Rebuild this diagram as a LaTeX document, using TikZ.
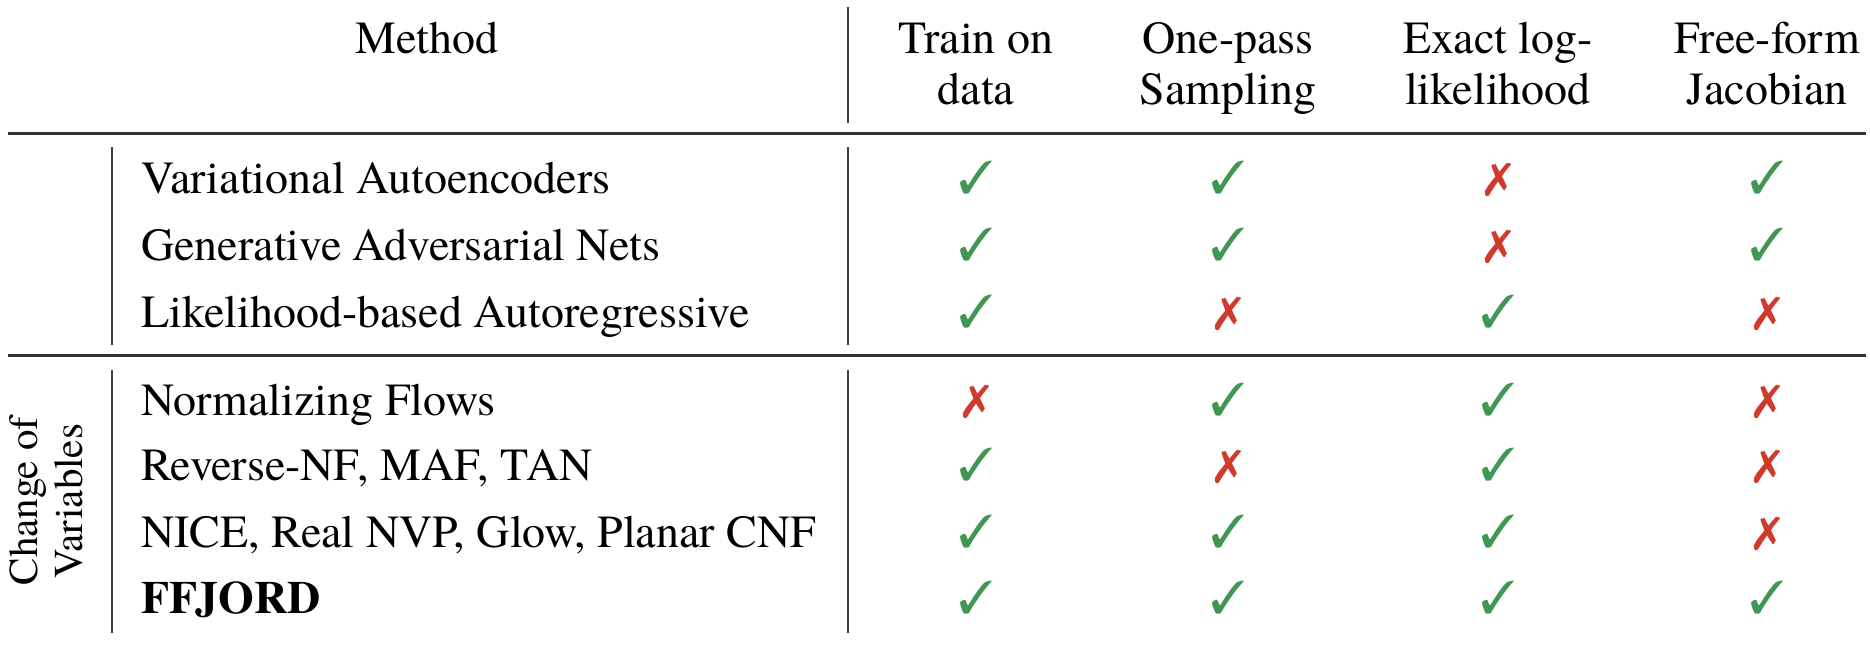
\documentclass[tikz,border=0pt]{standalone}
\usepackage{fontspec}
\setmainfont{texgyretermes}[Extension=.otf, UprightFont=*-regular, BoldFont=*-bold, ItalicFont=*-italic, BoldItalicFont=*-bolditalic]
\usepackage{pifont}
\usepackage{tikz}
\usetikzlibrary{positioning}
\definecolor{okgreen}{RGB}{64,150,82}
\definecolor{nored}{RGB}{208,58,45}
\newcommand{\cmark}{\textcolor{okgreen}{\ding{51}}}
\newcommand{\xmark}{\textcolor{nored}{\ding{55}}}

\begin{document}
\begin{tikzpicture}[x=1pt,y=-1pt]
        \tikzstyle{every node}+=[inner sep=0pt, anchor=base, font=\rmfamily\fontsize{46}{51}\selectfont]
        \tikzstyle{rule}=[line width=3pt, black!80]
        \tikzstyle{vline}=[line width=2.4pt, black!75]
        \tikzstyle{side}=[rotate=90, font=\rmfamily\fontsize{41}{45}\selectfont]
        \useasboundingbox (0,0) rectangle (1870,646);
        % header
        \node (method) at (427,53) {Method};
        \node (train) at (976,53) {Train on};
        \node (train2) at ([yshift=-51pt]train.base) {data};
        \node (pass) at (1228,53) {One-pass};
        \node (pass2) at ([yshift=-51pt]pass.base) {Sampling};
        \node (exact) at (1498,53) {Exact log-};
        \node (exact2) at ([yshift=-51pt]exact.base) {likelihood};
        \node (free) at (1767,53) {Free-form};
        \node (free2) at ([yshift=-51pt]free.base) {Jacobian};
        % rules
        \draw [rule] (8,133) -- (1866,133);
        \draw [rule] (8,355) -- (1866,355);
        \draw [vline] (848,7) -- (848,123);
        \draw [vline] (112,147) -- (112,345);
        \draw [vline] (848,147) -- (848,345);
        \draw [vline] (112,370) -- (112,633);
        \draw [vline] (848,370) -- (848,633);
        % side label
        \node [side] (change) at (37,501) {Change of};
        \node [side] (variables) at (82,501) {Variables};
        % methods
        \node [anchor=base west] (vae) at (141,193) {Variational Autoencoders};
        \node [anchor=base west] (gan) at (141,260) {Generative Adversarial Nets};
        \node [anchor=base west] (lar) at (141,327) {Likelihood-based Autoregressive};
        \node [anchor=base west] (nf) at (141,415) {Normalizing Flows};
        \node [anchor=base west] (rnf) at (141,480) {Reverse-NF, MAF, TAN};
        \node [anchor=base west] (nice) at (141,547) {NICE, Real NVP, Glow, Planar CNF};
        \node [anchor=base west] (ffjord) at (141,613) {\textbf{FFJORD}};
        % marks
        \node (vae1) at (976,193) {\cmark};
        \node (vae2) at (1228,193) {\cmark};
        \node (vae3) at (1498,193) {\xmark};
        \node (vae4) at (1767,193) {\cmark};
        \node (gan1) at (976,260) {\cmark};
        \node (gan2) at (1228,260) {\cmark};
        \node (gan3) at (1498,260) {\xmark};
        \node (gan4) at (1767,260) {\cmark};
        \node (lar1) at (976,327) {\cmark};
        \node (lar2) at (1228,327) {\xmark};
        \node (lar3) at (1498,327) {\cmark};
        \node (lar4) at (1767,327) {\xmark};
        \node (nf1) at (976,415) {\xmark};
        \node (nf2) at (1228,415) {\cmark};
        \node (nf3) at (1498,415) {\cmark};
        \node (nf4) at (1767,415) {\xmark};
        \node (rnf1) at (976,480) {\cmark};
        \node (rnf2) at (1228,480) {\xmark};
        \node (rnf3) at (1498,480) {\cmark};
        \node (rnf4) at (1767,480) {\xmark};
        \node (nice1) at (976,547) {\cmark};
        \node (nice2) at (1228,547) {\cmark};
        \node (nice3) at (1498,547) {\cmark};
        \node (nice4) at (1767,547) {\xmark};
        \node (ffjord1) at (976,613) {\cmark};
        \node (ffjord2) at (1228,613) {\cmark};
        \node (ffjord3) at (1498,613) {\cmark};
        \node (ffjord4) at (1767,613) {\cmark};
    \end{tikzpicture}
\end{document}
